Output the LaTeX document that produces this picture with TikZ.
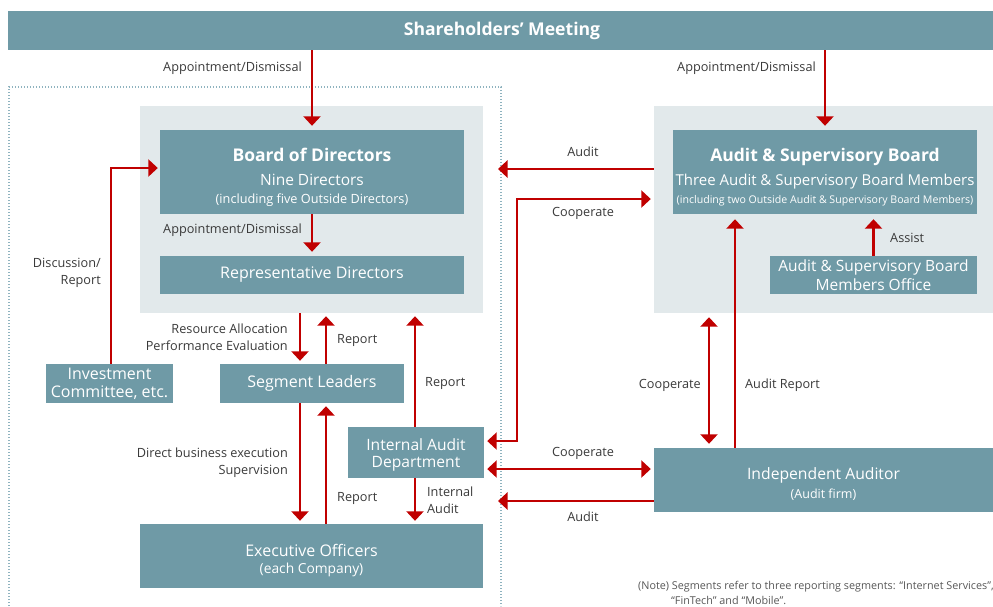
\documentclass[tikz,border=0pt]{standalone}
\usepackage{fontspec}
\setmainfont{Open Sans}
\usetikzlibrary{arrows.meta}
\definecolor{boxc}{HTML}{6F9AA6}
\definecolor{bgc}{HTML}{E2E9EB}
\definecolor{arrc}{HTML}{C00000}
\definecolor{dotc}{HTML}{8FB3BF}
\definecolor{txt}{HTML}{3A3A3A}
\tikzset{
  box/.style={fill=boxc, text=white, inner sep=0pt, align=center, font=\fontsize{16}{18}\selectfont},
  btxt/.style={text=white, inner sep=0pt, align=center},
  bg/.style={fill=bgc, inner sep=0pt},
  lbl/.style={text=txt, inner sep=0pt, font=\fontsize{12.7}{17}\selectfont},
  arr/.style={draw=arrc, line width=2.3pt, -{Triangle[width=17pt,length=9.5pt]}},
  arrb/.style={draw=arrc, line width=2.3pt, {Triangle[width=17pt,length=9.5pt]}-{Triangle[width=17pt,length=9.5pt]}},
  frame/.style={draw=dotc, line width=1.3pt, dash pattern=on 1.3pt off 1.7pt},
  ttl/.style={btxt, font=\bfseries\fontsize{17.5}{20}\selectfont},
}
\begin{document}
\begin{tikzpicture}[x=1pt,y=-1pt]
\useasboundingbox (0,0) rectangle (993,606);
% frame
\coordinate (dotNW) at (9,87);
\coordinate (dotSE) at (501,606);
\draw[frame] (dotNW |- dotSE) -- (dotNW) -| (dotSE);
% backgrounds
\node[bg, minimum width=343pt, minimum height=207pt] (bgL) at (311.5,209.5) {};
\node[bg, minimum width=339pt, minimum height=207pt] (bgR) at (823.5,209.5) {};
% top bar
\node[box, minimum width=985pt, minimum height=39pt] (top) at (500.5,30.5) {};
\node[ttl, font=\bfseries\fontsize{17.6}{20}\selectfont] (topt) at (502,31) {Shareholders’ Meeting};
% Board of Directors
\node[box, minimum width=304pt, minimum height=84pt] (BoD) at (312,172) {};
\node[ttl] (BoD1) at (312,155) {Board of Directors};
\node[btxt, font=\fontsize{15.5}{17}\selectfont] (BoD2) at (312,180) {Nine Directors};
\node[btxt, font=\fontsize{12.7}{14}\selectfont] (BoD3) at (312,200) {(including five Outside Directors)};
\node[box, minimum width=304pt, minimum height=38pt] (Rep) at (312,275) {Representative Directors};
% Audit & Supervisory Board
\node[box, minimum width=304pt, minimum height=84pt] (ASB) at (825,172) {};
\node[ttl] (ASB1) at (825,157) {Audit \& Supervisory Board};
\node[btxt, font=\fontsize{15}{17}\selectfont] (ASB2) at (825,182) {Three Audit \& Supervisory Board Members};
\node[btxt, font=\fontsize{10.6}{14}\selectfont] (ASB3) at (825,201) {(including two Outside Audit \& Supervisory Board Members)};
\node[box, minimum width=207pt, minimum height=38pt, font=\fontsize{15.5}{18.5}\selectfont] (Off) at (873.5,275) {Audit \& Supervisory Board\\Members Office};
% lower boxes
\node[box, minimum width=127pt, minimum height=39pt] (IC) at (109.5,383.5) {};
\node[btxt, font=\fontsize{16}{17.5}\selectfont] (ICt) at (109.5,384) {Investment\\Committee, etc.};
\node[box, minimum width=184pt, minimum height=39pt] (SL) at (312,383.5) {Segment Leaders};
\node[box, minimum width=136pt, minimum height=51pt] (IAD) at (416,452.5) {};
\node[btxt, font=\fontsize{15.6}{17.5}\selectfont] (IADt) at (416,455) {Internal Audit\\Department};
\node[box, minimum width=343pt, minimum height=64pt] (EO) at (311.5,556) {};
\node[btxt, font=\fontsize{16}{18}\selectfont] (EO1) at (311.5,550) {Executive Officers};
\node[btxt, font=\fontsize{13.8}{15}\selectfont] (EO2) at (311.5,570) {(each Company)};
\node[box, minimum width=339pt, minimum height=64pt] (IA) at (823.5,480) {};
\node[btxt, font=\fontsize{15.7}{18}\selectfont] (IA1) at (823.5,475.5) {Independent Auditor};
\node[btxt, font=\fontsize{12.5}{15}\selectfont] (IA2) at (823.5,495) {(Audit firm)};
% arrows from top
\draw[arr, shorten >=4pt] (top.south -| BoD.north) -- (BoD.north);
\draw[arr, shorten >=4pt] (top.south -| ASB.north) -- (ASB.north);
\node[lbl, anchor=east] (l1) at (302,68) {Appointment/Dismissal};
\node[lbl, anchor=east] (l2) at (816,68) {Appointment/Dismissal};
% BoD -> Rep
\draw[arr, shorten >=4pt] (BoD.south) -- (Rep.north);
\node[lbl, anchor=east] (l3) at (302,230) {Appointment/Dismissal};
% Assist
\draw[arr, shorten >=5pt] (Off.north) -- (Off.north |- ASB.south);
\node[lbl, anchor=west] (l4) at (890,238) {Assist};
% Audit from ASB
\draw[arr, shorten >=-3pt] ([yshift=3pt]bgR.west |- ASB.west) -- ([yshift=3pt]dotSE |- ASB.west);
\node[lbl] (l5) at (583,152) {Audit};
% Cooperate IAD <-> ASB
\draw[arrb, shorten <=3pt, shorten >=3pt] ([yshift=11.5pt]IAD.east) -| (517,199) -- (bgR.west |- 517,199);
\node[lbl] (l6) at (583,213) {Cooperate};
% Discussion / Report
\draw[arr, shorten >=2pt] ([xshift=1.5pt]IC.north) |- ([yshift=4pt]BoD.west);
\node[lbl, anchor=east, align=right] (l7) at (101,273) {Discussion/\\Report};
% bgL <-> SL
\draw[arr, shorten >=3pt] (bgL.south -| 300,0) -- (SL.north -| 300,0);
\draw[arr, shorten >=3pt] (SL.north -| 326,0) -- (bgL.south -| 326,0);
\node[lbl, anchor=east, align=right] (l8) at (288,337) {Resource Allocation\\Performance Evaluation};
\node[lbl, anchor=west] (l9) at (337,340) {Report};
% IAD -> bgL
\draw[arr, shorten >=3pt] (IAD.north -| 415,0) -- (bgL.south -| 415,0);
\node[lbl, anchor=west] (l10) at (425,383) {Report};
% SL <-> EO
\draw[arr, shorten >=3pt] (SL.south -| 300,0) -- (EO.north -| 300,0);
\draw[arr, shorten >=3pt] (EO.north -| 326,0) -- (SL.south -| 326,0);
\node[lbl, anchor=east, align=right] (l11) at (288,463) {Direct business execution\\Supervision};
\node[lbl, anchor=west] (l12) at (337,498) {Report};
% IAD -> EO
\draw[arr, shorten >=3pt] (IAD.south -| 415,0) -- (EO.north -| 415,0);
\node[lbl, anchor=west, align=left] (l13) at (427,500) {Internal\\Audit};
% IA <-> bgR
\draw[arrb, shorten <=4pt, shorten >=4pt] (IA.north -| 709,0) -- (bgR.south -| 709,0);
\node[lbl, anchor=east] (l14) at (701,385) {Cooperate};
\draw[arr, shorten >=5pt] (IA.north -| 735,0) -- (ASB.south -| 735,0);
\node[lbl, anchor=west] (l15) at (745,385) {Audit Report};
% IAD <-> IA
\draw[arrb, shorten <=3pt, shorten >=3pt] (IAD.east |- 0,469) -- (IA.west |- 0,469);
\node[lbl] (l16) at (583,453) {Cooperate};
% Audit from IA
\draw[arr, shorten >=-3pt] (IA.west |- 0,501) -- (dotSE |- 0,501);
\node[lbl] (l17) at (583,517) {Audit};
% note
\node[lbl, anchor=west, align=left, font=\fontsize{10.8}{15}\selectfont, text=txt!85] (note) at (638,593)
  {(Note) Segments refer to three reporting segments: “Internet Services”,\\\hspace*{33pt}“FinTech” and “Mobile”.};
\end{tikzpicture}
\end{document}
